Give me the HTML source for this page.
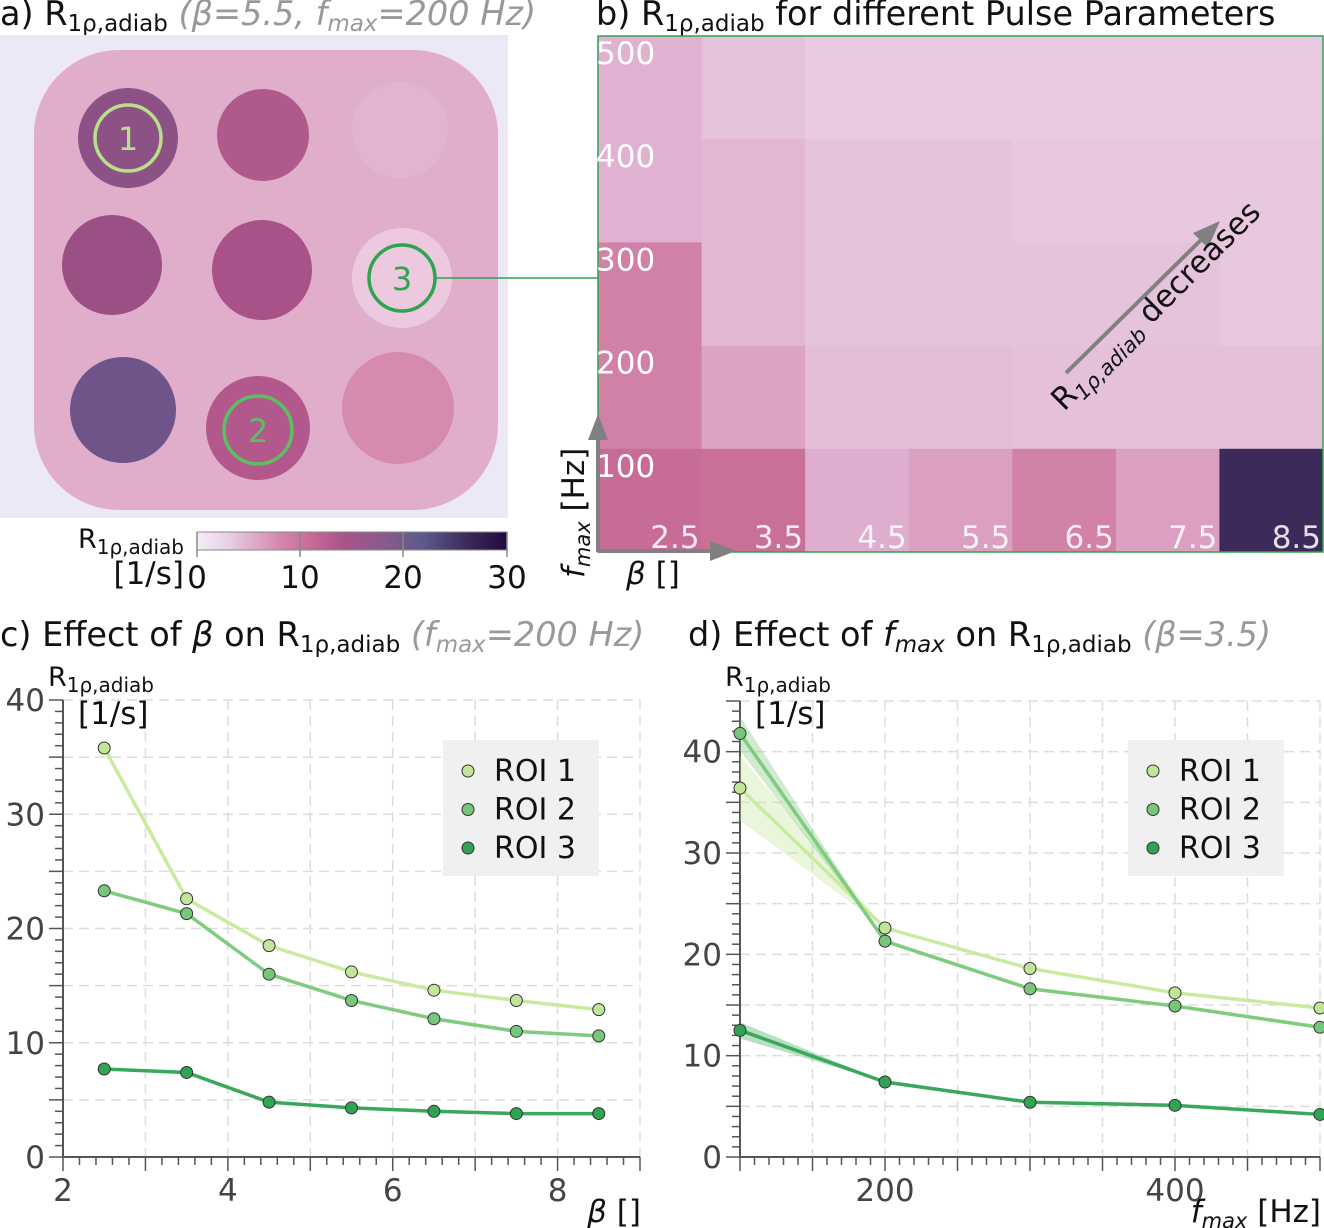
<!DOCTYPE html>
<html><head><meta charset="utf-8"><style>
html,body{margin:0;padding:0;background:#fff;}
svg{display:block;font-family:"DejaVu Sans","Liberation Sans",sans-serif;}
.t{font-size:33.5px;fill:#111;}
.g{fill:#999;font-style:italic;}
.tk{fill:#444;}
</style></head><body>
<svg id="s" width="1324" height="1228" viewBox="0 0 1324 1228" xmlns="http://www.w3.org/2000/svg">
<defs>
<linearGradient id="cb" x1="0" x2="1" y1="0" y2="0">
<stop offset="0" stop-color="#f4eef7"/><stop offset="0.1" stop-color="#e9cfe5"/><stop offset="0.17" stop-color="#e0b1d0"/><stop offset="0.27" stop-color="#d486ab"/><stop offset="0.37" stop-color="#c66a95"/><stop offset="0.47" stop-color="#aa548a"/><stop offset="0.6" stop-color="#8a5a8c"/><stop offset="0.73" stop-color="#5a5a8c"/><stop offset="0.87" stop-color="#3c2a5a"/><stop offset="1" stop-color="#23093e"/>
</linearGradient>
</defs>
<text class="t" x="0" y="25">a) R<tspan font-size="23" dy="6">1ρ,adiab</tspan><tspan dy="-6" class="g"> (β=5.5, f<tspan font-size="23" dy="6">max</tspan><tspan dy="-6">=200 Hz)</tspan></tspan></text>
<text class="t" x="596" y="25">b) R<tspan font-size="23" dy="6">1ρ,adiab</tspan><tspan dy="-6"> for different Pulse Parameters</tspan></text>
<text class="t" x="0" y="646">c) Effect of <tspan font-style="italic">β</tspan> on R<tspan font-size="23" dy="6">1ρ,adiab</tspan><tspan dy="-6" class="g"> (f<tspan font-size="23" dy="6">max</tspan><tspan dy="-6">=200 Hz)</tspan></tspan></text>
<text class="t" x="688" y="646">d) Effect of <tspan font-style="italic">f<tspan font-size="23" dy="6">max</tspan></tspan><tspan dy="-6"> on R</tspan><tspan font-size="23" dy="6">1ρ,adiab</tspan><tspan dy="-6" class="g"> (β=3.5)</tspan></text>

<g>
<rect x="0" y="35" width="508" height="483" fill="#ece8f6"/>
<rect x="34" y="50" width="464" height="460" rx="85" fill="#e0aecb"/>
<circle cx="128" cy="138" r="50" fill="#8c5286"/>
<circle cx="263" cy="135" r="46" fill="#b05a8c"/>
<circle cx="400" cy="130" r="48" fill="#e2b4cf"/>
<circle cx="112" cy="265" r="50" fill="#9a5084"/>
<circle cx="262" cy="270" r="50" fill="#a85287"/>
<circle cx="402" cy="278" r="50" fill="#ecc9de"/>
<circle cx="123" cy="410" r="53" fill="#6e5489"/>
<circle cx="258" cy="428" r="52" fill="#b2588c"/>
<circle cx="398" cy="408" r="56" fill="#d68aad"/>
<circle cx="128" cy="138" r="33" fill="none" stroke="#b8e08a" stroke-width="3.5"/>
<text x="128" y="150" text-anchor="middle" font-size="32" fill="#b8e08a">1</text>
<circle cx="258" cy="430" r="34" fill="none" stroke="#5cbf60" stroke-width="3.5"/>
<text x="258" y="442" text-anchor="middle" font-size="32" fill="#5cbf60">2</text>
<circle cx="402" cy="278" r="33" fill="none" stroke="#2ea44f" stroke-width="3.5"/>
<text x="402" y="290" text-anchor="middle" font-size="32" fill="#2ea44f">3</text>
<line x1="436" y1="278" x2="598" y2="278" stroke="#2ea44f" stroke-width="1.5"/>
</g>
<g>
<rect x="197" y="532" width="310" height="18" fill="url(#cb)" stroke="#888" stroke-width="1"/>
<g stroke="#888" stroke-width="1.5"><line x1="197" y1="532" x2="197" y2="557"/><line x1="300" y1="532" x2="300" y2="557"/><line x1="403" y1="532" x2="403" y2="557"/><line x1="507" y1="532" x2="507" y2="557"/></g>
<g font-size="31" fill="#111"><text x="197" y="588" text-anchor="middle">0</text><text x="300" y="588" text-anchor="middle">10</text><text x="403" y="588" text-anchor="middle">20</text><text x="507" y="588" text-anchor="middle">30</text></g>
<text x="184" y="548" text-anchor="end" font-size="27" fill="#111">R<tspan font-size="20" dy="6">1ρ,adiab</tspan></text>
<text x="184" y="584" text-anchor="end" font-size="31" fill="#111">[1/s]</text>
</g>

<g id="heat"></g>
<g id="charts"></g>
</svg>
<script>
// ---- Heatmap data ----
const betaCats = ["2.5","3.5","4.5","5.5","6.5","7.5","8.5"];
const fmaxCats = ["500","400","300","200","100"];
const row500 = [5.0, 3.8, 3.3, 3.3, 3.3, 3.3, 3.3];
const row400 = [5.0, 4.6, 3.8, 3.8, 3.5, 3.5, 3.5];
const row300 = [8.6, 4.6, 3.8, 3.8, 3.8, 3.8, 3.5];
const row200 = [8.6, 6.0, 4.2, 4.2, 4.0, 4.0, 4.0];
const row100 = [10.8, 10.4, 5.2, 6.2, 8.5, 6.2, 26];
// ---- Panel c data ----
const betaX = [2.5, 3.5, 4.5, 5.5, 6.5, 7.5, 8.5];
const cRoi1 = [35.8, 22.6, 18.5, 16.2, 14.6, 13.7, 12.9];
const cRoi2 = [23.3, 21.3, 16.0, 13.7, 12.1, 11.0, 10.6];
const cRoi3 = [7.7, 7.4, 4.8, 4.3, 4.0, 3.8, 3.8];
const cXTicks = [2, 4, 6, 8];
const cYTicks = [0, 10, 20, 30, 40];
// ---- Panel d data ----
const fmaxX = [100, 200, 300, 400, 500];
const dRoi1 = [36.4, 22.6, 18.6, 16.2, 14.7];
const dRoi2 = [41.8, 21.3, 16.6, 14.9, 12.8];
const dRoi3 = [12.5, 7.4, 5.4, 5.1, 4.2];
const dErr1 = [3.2, 0, 0, 0, 0];
const dErr2 = [1.7, 0, 0, 0, 0];
const dErr3 = [0.8, 0, 0, 0, 0];
const dXTicks = [200, 400];
const dYTicks = [0, 10, 20, 30, 40];
const roiNames = ["ROI 1","ROI 2","ROI 3"];

const NS="http://www.w3.org/2000/svg";
function mk(tag, attrs, parent){const e=document.createElementNS(NS,tag);for(const k in attrs)e.setAttribute(k,attrs[k]);parent.appendChild(e);return e;}
const stops=[[0,[244,238,247]],[3,[233,207,229]],[5,[224,177,208]],[8,[212,134,171]],[11,[198,106,149]],[14,[170,84,138]],[18,[138,90,140]],[22,[90,90,140]],[26,[60,42,90]],[30,[35,9,62]]];
function cmap(v){for(let i=1;i<stops.length;i++){if(v<=stops[i][0]){const a=stops[i-1],b=stops[i];const t=(v-a[0])/(b[0]-a[0]);return "rgb("+a[1].map((c,j)=>Math.round(c+(b[1][j]-c)*t)).join(",")+")";}}return "rgb(35,9,62)";}

const heat=document.getElementById('heat');
const hx0=598,hy0=36,hw=725,hh=516;
const rows=[row500,row400,row300,row200,row100];
const cw=hw/betaCats.length, ch=hh/fmaxCats.length;
rows.forEach((r,ri)=>r.forEach((v,ci)=>{
  const c=mk('rect',{x:hx0+ci*cw,y:hy0+ri*ch,width:cw+0.5,height:ch+0.5,fill:cmap(v)},heat);
  
  
}));
mk('rect',{x:hx0,y:hy0,width:hw,height:hh,fill:'none',stroke:'#2ea44f','stroke-width':1.5},heat);
fmaxCats.forEach((f,ri)=>{const t=mk('text',{x:hx0-2,y:hy0+ri*ch+28,'font-size':31,fill:'#fff'},heat);t.textContent=f;
  
  });
betaCats.forEach((b,ci)=>{const t=mk('text',{x:hx0+(ci+1)*cw-2,y:hy0+hh-4,'font-size':31,fill:'rgba(255,255,255,0.85)','text-anchor':'end'},heat);t.textContent=b;
  
  });
mk('line',{x1:598,y1:552,x2:598,y2:432,stroke:'#808080','stroke-width':4},heat);
mk('polygon',{points:'598,414 588,440 608,440',fill:'#808080'},heat);
mk('line',{x1:598,y1:551,x2:716,y2:551,stroke:'#808080','stroke-width':4},heat);
mk('polygon',{points:'736,551 710,541 710,561',fill:'#808080'},heat);
mk('line',{x1:1066,y1:373,x2:1205,y2:236,stroke:'#808080','stroke-width':4},heat);
mk('polygon',{points:'1220,221 1193,233 1208,248',fill:'#808080'},heat);
const dt=mk('text',{x:0,y:0,'font-size':31,fill:'#111',transform:'translate(1064,412) rotate(-45)'},heat);
dt.innerHTML='R<tspan font-size="21" font-style="italic" dy="6">1ρ,adiab</tspan><tspan dy="-6"> decreases</tspan>';


const fl=mk('text',{x:0,y:0,'font-size':31,fill:'#111',transform:'translate(584,578) rotate(-90)'},heat);
fl.innerHTML='<tspan font-style="italic">f<tspan font-size="21" dy="6">max</tspan></tspan><tspan dy="-6"> [Hz]</tspan>';


const bl=mk('text',{x:626,y:584,'font-size':31,fill:'#111'},heat);
bl.innerHTML='<tspan font-style="italic">β</tspan> []';



const colors=['#c2e699','#78c679','#31a354'];
const lineCols=['#c9ea9f','#7fcb7f','#3aa85a'];
function chart(name,g,px0,px1,xmin,xmax,py0,py1,ymax,xGrid,yGrid,xMinorStep,xTicks,yTicks,xs,series,errs,legX,xTitle){
  const X=v=>px0+(v-xmin)/(xmax-xmin)*(px1-px0);
  const Y=v=>py0-(v/ymax)*(py0-py1);
  
  
  for(let v=xmin+xGrid;v<=xmax+1e-6;v+=xGrid) mk('line',{x1:X(v),x2:X(v),y1:py1,y2:py0,stroke:'#ddd','stroke-width':1.5,'stroke-dasharray':'10,6'},g);
  for(let v=yGrid;v<=ymax+1e-6;v+=yGrid) mk('line',{x1:px0,x2:px1,y1:Y(v),y2:Y(v),stroke:'#ddd','stroke-width':1.5,'stroke-dasharray':'10,6'},g);
  mk('line',{x1:px0,x2:px0,y1:py0,y2:py1,stroke:'#555','stroke-width':2},g);
  mk('line',{x1:px0,x2:px1,y1:py0,y2:py0,stroke:'#555','stroke-width':2},g);
  for(let v=xmin;v<=xmax+1e-6;v+=xMinorStep){const major=Math.abs(v/xGrid-Math.round(v/xGrid))<1e-6;mk('line',{x1:X(v),x2:X(v),y1:py0,y2:py0+(major?14:8),stroke:'#555','stroke-width':1.5},g);}
  for(let v=0;v<=ymax+1e-6;v+=1){const major=v%5===0;mk('line',{x1:px0,x2:px0-(major?14:8),y1:Y(v),y2:Y(v),stroke:'#555','stroke-width':1.5},g);}
  xTicks.forEach(v=>{const t=mk('text',{x:X(v),y:py0+44,'text-anchor':'middle',class:'tk','font-size':31},g);t.textContent=v;
    
    });
  yTicks.forEach(v=>{const t=mk('text',{x:px0-18,y:Y(v)+11,'text-anchor':'end',class:'tk','font-size':31},g);t.textContent=v;
    
    });
  series.forEach((s,i)=>{const e=errs[i];if(!e)return;
    const up=xs.map((x,j)=>X(x)+','+Y(s[j]+e[j])).join(' ');const dn=xs.map((x,j)=>X(x)+','+Y(s[j]-e[j])).reverse().join(' ');
    const b=mk('polygon',{points:up+' '+dn,fill:colors[i],opacity:0.35},g);
    
    });
  series.forEach((s,i)=>{const l=mk('polyline',{points:xs.map((x,j)=>X(x)+','+Y(s[j])).join(' '),fill:'none',stroke:lineCols[i],'stroke-width':3.5},g);
    
    });
  series.forEach((s,i)=>s.forEach((v,j)=>{const c=mk('circle',{cx:X(xs[j]),cy:Y(v),r:6,fill:colors[i],stroke:'#333','stroke-width':1},g);
    
    }));
  const lg=mk('g',{},g);
  
  
  mk('rect',{x:legX,y:740,width:156,height:136,fill:'#f0f0f0'},lg);
  roiNames.forEach((n,i)=>{mk('circle',{cx:legX+25,cy:771+i*38.5,r:6,fill:colors[i],stroke:'#333','stroke-width':1},lg);
    const t=mk('text',{x:legX+51,y:781+i*38.5,'font-size':30,fill:'#111'},lg);t.textContent=n;
    
    });
  const yt=mk('text',{x:px0-15,y:686,'font-size':27,fill:'#111'},g);
  yt.innerHTML='R<tspan font-size="20" dy="6">1ρ,adiab</tspan>';
  
  
  const yu=mk('text',{x:px0+15,y:724,'font-size':31,fill:'#111'},g);yu.textContent='[1/s]';
  
  
  const xt=mk('text',{x:px1+1,y:1222,'font-size':31,fill:'#111','text-anchor':'end'},g);xt.innerHTML=xTitle;
  
  
}
const charts=document.getElementById('charts');
const gc=mk('g',{},charts);
chart('beta-effect-chart',gc,63,640,2,9,1157,700,40,1,5,0.2,cXTicks,cYTicks,betaX,[cRoi1,cRoi2,cRoi3],[null,null,null],443,'<tspan font-style="italic">β</tspan> []');
const gd=mk('g',{},charts);
chart('fmax-effect-chart',gd,740,1320,100,500,1157,701,45,50,5,10,dXTicks,dYTicks,fmaxX,[dRoi1,dRoi2,dRoi3],[dErr1,dErr2,dErr3],1128,'<tspan font-style="italic">f<tspan font-size="21" dy="6">max</tspan></tspan><tspan dy="-6"> [Hz]</tspan>');
</script>
</body></html>
